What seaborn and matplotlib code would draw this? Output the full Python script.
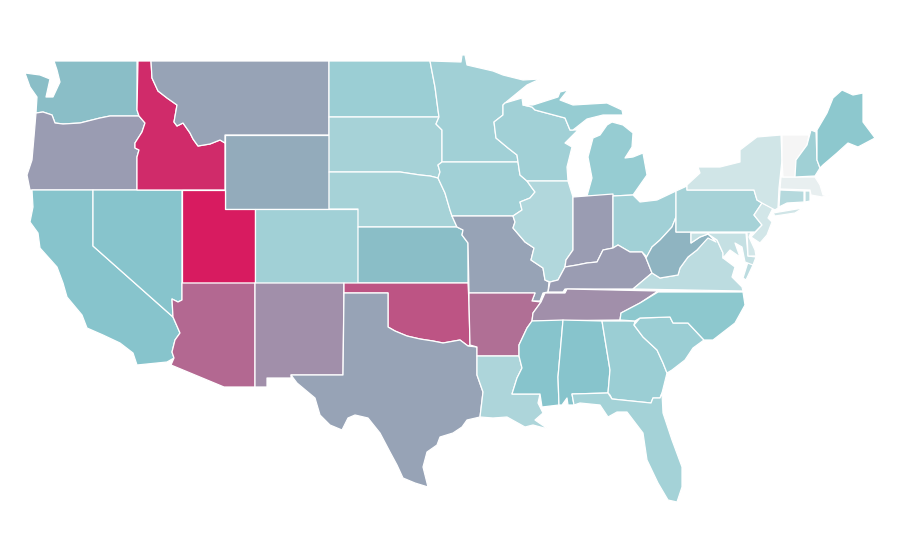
import matplotlib
matplotlib.use("Agg")
import matplotlib.pyplot as plt
import seaborn as sns

states = ["WA", "OR", "CA", "NV", "ID", "MT", "WY", "UT", "AZ", "CO", "NM", "ND", "SD", "NE", "KS", "OK", "TX",
          "MN", "IA", "MO", "AR", "LA", "WI", "IL", "MI", "IN", "OH", "KY", "TN", "MS", "AL", "GA", "FL", "SC", "NC",
          "VA", "WV", "MD", "DE", "PA", "NJ", "NY", "CT", "RI", "MA", "VT", "NH", "ME"]
# colour value of each state, 0 to 100
values = [52, 62, 50, 50, 95, 60, 57.5, 100, 77, 38, 66, 41, 36, 36, 52, 83, 60,
          38, 38, 60, 75, 33, 38, 31, 43, 62, 38, 62, 66, 50, 50, 41, 37, 41, 47,
          26, 55, 22, 16, 36, 16, 17, 29, 25, 6, 0, 39, 47]

# state outlines, traced in picture pixels; a state can have several parts
outlines = {
    "WA": [[(54, 61), (137, 61), (137, 110), (139, 116), (110, 116), (100, 118), (80, 123), (63, 124), (55, 123),
            (52, 115), (43, 112), (36, 113), (37, 97), (30, 87), (25, 73), (40, 75), (50, 79), (48, 88), (46, 97),
            (53, 97), (60, 82), (57, 70)]],
    "OR": [[(36, 113), (43, 112), (52, 115), (55, 123), (63, 124), (80, 123), (100, 118), (110, 116), (139, 116),
            (145, 123), (142, 132), (135, 143), (135, 148), (139, 150), (137, 157), (137, 190), (30, 190), (27, 175),
            (32, 160), (34, 137)]],
    "CA": [[(32, 190), (93, 190), (93, 246), (173, 317), (180, 333), (175, 340), (172, 352), (174, 358), (167, 362),
            (137, 365), (133, 353), (120, 343), (103, 335), (87, 328), (82, 315), (67, 297), (63, 283), (57, 267),
            (40, 248), (38, 233), (30, 222), (33, 207)]],
    "NV": [[(93, 190), (182, 190), (182, 283), (182, 300), (178, 302), (172, 299), (173, 317), (93, 246)]],
    "ID": [[(138, 61), (151, 61), (152, 78), (158, 91), (167, 98), (177, 105), (174, 122), (177, 126), (183, 123),
            (190, 133), (193, 139), (198, 146), (210, 144), (220, 140), (225, 143), (225, 190), (137, 190), (137, 157),
            (139, 150), (135, 148), (135, 143), (142, 132), (145, 123), (139, 116), (137, 110)]],
    "MT": [[(151, 61), (329, 61), (329, 135), (225, 135), (225, 143), (220, 140), (210, 144), (198, 146), (193, 139),
            (190, 133), (183, 123), (177, 126), (174, 122), (177, 105), (167, 98), (158, 91), (152, 78)]],
    "WY": [[(225, 135), (329, 135), (329, 209), (225, 209)]],
    "UT": [[(182, 190), (225, 190), (225, 209), (255, 209), (255, 283), (182, 283)]],
    "AZ": [[(182, 283), (255, 283), (255, 387), (224, 387), (171, 365), (174, 358), (172, 352), (175, 340), (180, 333),
            (173, 317), (172, 299), (178, 302), (182, 300)]],
    "CO": [[(255, 209), (358, 209), (358, 283), (255, 283)]],
    "NM": [[(255, 283), (344, 283), (343, 375), (291, 375), (291, 378), (267, 378), (267, 387), (255, 387)]],
    "ND": [[(329, 61), (430, 61), (435, 87), (438, 110), (439, 117), (329, 117)]],
    "SD": [[(329, 117), (439, 117), (436, 124), (442, 130), (442, 162), (438, 165), (440, 172), (438, 178), (430, 176),
            (420, 175), (400, 172), (329, 172)]],
    "NE": [[(329, 172), (400, 172), (420, 175), (430, 176), (438, 178), (445, 193), (450, 210), (452, 216), (457, 227),
            (358, 227), (358, 209), (329, 209)]],
    "KS": [[(358, 227), (457, 227), (463, 230), (462, 235), (468, 243), (468, 283), (358, 283)]],
    "OK": [[(344, 283), (468, 283), (469, 303), (470, 345), (468, 346), (460, 340), (443, 343), (433, 341), (420, 339),
            (407, 336), (395, 331), (388, 327), (388, 293), (344, 293)]],
    "TX": [[(344, 293), (388, 293), (388, 327), (395, 331), (407, 336), (420, 339), (433, 341), (443, 343), (460, 340),
            (468, 346), (477, 347), (477, 375), (483, 392), (480, 417), (467, 420), (462, 427), (453, 433), (440, 437),
            (437, 445), (427, 452), (423, 467), (428, 487), (415, 483), (403, 478), (397, 465), (390, 452), (380, 433),
            (368, 418), (355, 415), (348, 418), (342, 430), (330, 425), (320, 415), (315, 398), (297, 383), (291, 375),
            (343, 375)]],
    "MN": [[(430, 61), (461, 62), (462, 55), (465, 55), (467, 65), (480, 68), (493, 71), (503, 75), (523, 80), (540, 79),
            (527, 85), (505, 103), (503, 105), (503, 115), (494, 122), (496, 138), (508, 148), (517, 155), (518, 162),
            (442, 162), (442, 130), (436, 124), (439, 117), (438, 110), (435, 87)]],
    "IA": [[(442, 162), (518, 162), (520, 175), (527, 181), (532, 188), (535, 192), (530, 198), (520, 202), (522, 210),
            (513, 216), (452, 216), (450, 210), (445, 193), (438, 178), (440, 172), (438, 165)]],
    "MO": [[(452, 216), (513, 216), (515, 222), (513, 228), (525, 242), (534, 248), (531, 260), (543, 268), (545, 280),
            (549, 282), (548, 292), (543, 293), (540, 301), (532, 301), (535, 293), (469, 293), (468, 243), (462, 235),
            (463, 230), (457, 227)]],
    "AR": [[(469, 293), (535, 293), (532, 301), (541, 302), (533, 313), (532, 321), (527, 328), (519, 345), (519, 356),
            (477, 356), (477, 347), (470, 345), (469, 303)]],
    "LA": [[(477, 356), (519, 356), (522, 368), (517, 378), (512, 394), (540, 394), (538, 403), (543, 413), (535, 420),
            (548, 429), (533, 425), (525, 427), (507, 417), (493, 418), (480, 417), (483, 392), (477, 375)]],
    "WI": [[(505, 103), (522, 98), (523, 105), (532, 107), (535, 110), (565, 118), (570, 130), (578, 130), (565, 143),
            (572, 147), (567, 167), (568, 181), (527, 181), (520, 175), (518, 162), (517, 155), (508, 148), (496, 138),
            (494, 122), (503, 115), (503, 105)]],
    "IL": [[(527, 181), (568, 181), (573, 197), (573, 250), (566, 260), (565, 267), (558, 280), (550, 282), (545, 280),
            (543, 268), (531, 260), (534, 248), (525, 242), (513, 228), (515, 222), (513, 216), (522, 210), (520, 202),
            (530, 198), (535, 192), (532, 188)]],
    "MI": [[(593, 138), (600, 135), (607, 125), (612, 122), (623, 125), (633, 133), (632, 147), (625, 158), (633, 157),
            (643, 153), (647, 175), (633, 195), (613, 196), (587, 196), (592, 178), (588, 157)],
           [(523, 105), (533, 105), (558, 97), (560, 92), (568, 90), (560, 100), (573, 105), (607, 103), (622, 110),
            (623, 115), (603, 115), (587, 119), (573, 130), (570, 130), (565, 118), (535, 110), (532, 107)]],
    "IN": [[(573, 197), (613, 194), (613, 248), (603, 250), (597, 262), (587, 263), (577, 265), (565, 267), (566, 260),
            (573, 250)]],
    "OH": [[(613, 196), (633, 195), (640, 202), (657, 200), (676, 191), (676, 217), (672, 227), (660, 240), (652, 247),
            (647, 257), (642, 252), (630, 252), (618, 245), (613, 248)]],
    "KY": [[(548, 292), (550, 282), (558, 280), (565, 267), (577, 265), (587, 263), (597, 262), (603, 250), (613, 248),
            (618, 245), (630, 252), (642, 252), (646, 258), (652, 273), (633, 289), (565, 289), (563, 292)]],
    "TN": [[(545, 293), (565, 293), (567, 289), (658, 291), (640, 303), (621, 313), (620, 320), (532, 321), (533, 313),
            (541, 302)]],
    "MS": [[(532, 321), (563, 320), (558, 377), (559, 405), (542, 407), (540, 394), (512, 394), (517, 378), (522, 368),
            (519, 356), (519, 345), (527, 328)]],
    "AL": [[(563, 320), (602, 321), (610, 370), (608, 393), (572, 394), (574, 405), (568, 405), (567, 398), (562, 405),
            (559, 405), (558, 377)]],
    "GA": [[(602, 321), (635, 321), (634, 325), (643, 337), (657, 350), (663, 363), (667, 373), (662, 393), (660, 398),
            (653, 398), (651, 403), (612, 399), (610, 395), (608, 393), (610, 370)]],
    "FL": [[(572, 394), (608, 393), (612, 399), (651, 403), (653, 398), (660, 398), (662, 393), (663, 413), (672, 440),
            (682, 467), (682, 487), (677, 502), (668, 500), (658, 483), (647, 460), (643, 433), (627, 412), (617, 412),
            (608, 417), (600, 405), (580, 403), (574, 405)]],
    "SC": [[(634, 325), (640, 318), (670, 317), (673, 323), (688, 323), (704, 340), (693, 348), (685, 360), (672, 370),
            (667, 373), (663, 363), (657, 350), (643, 337)]],
    "NC": [[(658, 292), (743, 292), (745, 305), (735, 323), (713, 340), (704, 340), (688, 323), (673, 323), (670, 317),
            (640, 318), (635, 321), (620, 320), (621, 313), (640, 303)]],
    "VA": [[(633, 289), (652, 273), (660, 278), (678, 275), (680, 268), (688, 257), (697, 250), (708, 237), (717, 240),
            (723, 253), (723, 258), (735, 267), (732, 277), (742, 287), (743, 291)],
           [(748, 262), (753, 265), (746, 280), (743, 278)]],
    "WV": [[(676, 217), (676, 232), (691, 232), (691, 243), (700, 237), (708, 234), (716, 242), (708, 238), (697, 250),
            (688, 257), (680, 268), (678, 275), (660, 278), (652, 273), (646, 258), (652, 247), (660, 240), (672, 227)]],
    "MD": [[(691, 233), (746, 233), (748, 256), (756, 257), (753, 265), (745, 262), (742, 247), (735, 243), (740, 257),
            (730, 250), (723, 258), (723, 253), (717, 240), (708, 234), (700, 237), (691, 243)]],
    "DE": [[(747, 232), (751, 232), (749, 237), (755, 250), (756, 256), (748, 256)]],
    "PA": [[(676, 191), (687, 186), (687, 190), (754, 190), (757, 200), (762, 203), (754, 215), (762, 225), (755, 232),
            (676, 232)]],
    "NJ": [[(762, 203), (773, 208), (768, 218), (772, 222), (767, 235), (760, 243), (751, 237), (762, 225), (754, 215)]],
    "NY": [[(687, 185), (700, 173), (698, 167), (720, 167), (740, 162), (740, 150), (757, 137), (781, 135), (782, 160),
            (779, 188), (778, 208), (775, 210), (762, 203), (757, 200), (754, 190), (687, 190)],
           [(773, 213), (803, 208), (795, 213), (775, 216)]],
    "CT": [[(780, 190), (804, 191), (804, 202), (787, 203), (779, 207)]],
    "RI": [[(805, 191), (810, 191), (810, 201), (805, 202)]],
    "MA": [[(781, 177), (815, 177), (820, 185), (823, 195), (830, 195), (822, 197), (811, 195), (810, 190), (780, 189)]],
    "VT": [[(782, 135), (809, 135), (807, 145), (796, 160), (795, 177), (783, 177), (782, 160)]],
    "NH": [[(811, 130), (816, 132), (817, 160), (820, 168), (815, 176), (795, 177), (796, 160), (807, 145)]],
    "ME": [[(817, 130), (827, 113), (833, 98), (842, 90), (853, 95), (863, 93), (863, 122), (875, 138), (858, 147),
            (848, 143), (837, 153), (823, 165), (820, 168), (817, 160)]],
}

sns.set_theme(style="white")
cmap = sns.blend_palette(["#f5f5f5", "#87c5cc", "#d81b60"], as_cmap=True)

fig = plt.figure(figsize=(9, 5.6), dpi=100)
ax = fig.add_axes([0, 0, 1, 1])

for state, value in zip(states, values):
    for part in outlines[state]:
        xs, ys = zip(*part)
        ax.fill(xs, ys, facecolor=cmap(value / 100), edgecolor="white", linewidth=0.9, joinstyle="round")

ax.set_xlim(0, 900)
ax.set_ylim(560, 0)
ax.axis("off")

fig.savefig("out.png", dpi=100)
